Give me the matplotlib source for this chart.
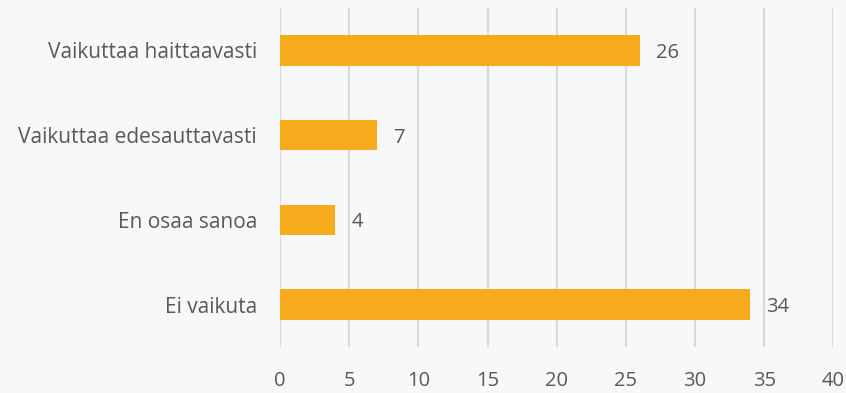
import matplotlib
matplotlib.use("Agg")
import matplotlib.pyplot as plt

categories = ["Vaikuttaa haittaavasti", "Vaikuttaa edesauttavasti", "En osaa sanoa", "Ei vaikuta"]
values = [26, 7, 4, 34]
x_ticks = [0, 5, 10, 15, 20, 25, 30, 35, 40]

bg = "#F7F8FA"
bar_color = "#F6AA1C"
text_color = "#595959"

plt.rcParams["font.family"] = ["Open Sans", "DejaVu Sans"]

fig = plt.figure(figsize=(8.46, 3.93), dpi=100, facecolor=bg)
ax = fig.add_axes([0.331, 0.117, 0.654, 0.863], facecolor=bg)

ypos = list(range(len(categories)))
ax.barh(ypos, values, height=0.36, color=bar_color, zorder=3)
for y, v in zip(ypos, values):
    ax.text(v + 1.15, y + 0.03, str(v), va="center", ha="left", fontsize=14.5, color=text_color)

ax.set_yticks(ypos)
ax.set_yticklabels(categories, fontsize=15, color=text_color)
ax.set_ylim(len(categories) - 0.5, -0.5)
ax.set_xlim(0, 40)
ax.set_xticks(x_ticks)
ax.set_xticklabels([str(t) for t in x_ticks], fontsize=14.5, color=text_color)
ax.tick_params(axis="both", length=0)
ax.tick_params(axis="x", pad=17)
ax.tick_params(axis="y", pad=16.5)
ax.grid(axis="x", color="#D9D9D9", linewidth=1.5, zorder=0)
for s in ax.spines.values():
    s.set_visible(False)

fig.savefig("out.png", dpi=100, facecolor=bg)
